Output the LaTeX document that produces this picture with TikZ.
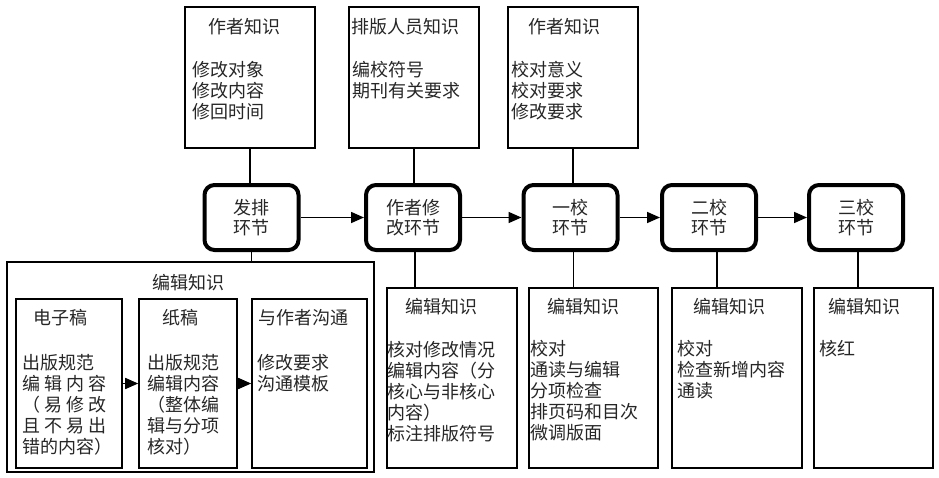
\documentclass[tikz,border=0pt]{standalone}
\usepackage{fontspec}
\newfontfamily\cjk{Noto Sans CJK SC}
\usetikzlibrary{arrows.meta}
\begin{document}
\begin{tikzpicture}[x=1pt,y=-1pt,
  every node/.style={font=\cjk\fontsize{18}{21}\selectfont,text=black!85,inner sep=0pt},
  kbox/.style={draw=black,line width=1.6pt},
  stage/.style={draw=black,line width=4pt,rounded corners=10pt,minimum width=94,minimum height=65,align=center,font=\cjk\fontsize{18}{20}\selectfont},
  ttl/.style={anchor=west},
  txt/.style={anchor=north west,align=left},
  ln/.style={line width=1.6pt},
  arr/.style={line width=1.6pt,-{Triangle[length=13pt,width=11pt]}}]
\useasboundingbox (0,0) rectangle (939,477);

\node[kbox,minimum width=130,minimum height=141] (zz1) at (250,77.5) {};
\node[kbox,minimum width=130,minimum height=141] (pb) at (414,77.5) {};
\node[kbox,minimum width=130,minimum height=141] (zz2) at (573,77.5) {};
\node[ttl] (zz1t) at (208,27) {作者知识};
\node[txt] (zz1b) at (192,61.5) {修改对象\\修改内容\\修回时间};
\node[ttl] (pbt) at (351,27) {排版人员知识};
\node[txt] (pbb) at (352,61.5) {编校符号\\期刊有关要求};
\node[ttl] (zz2t) at (528,27) {作者知识};
\node[txt] (zz2b) at (511,61.5) {校对意义\\校对要求\\修改要求};

\node[stage] (fp) at (251.5,217.5) {发排\\环节};
\node[stage] (zx) at (413,217.5) {作者修\\改环节};
\node[stage] (yj) at (570.5,217.5) {一校\\环节};
\node[stage] (ej) at (709,217.5) {二校\\环节};
\node[stage] (sj) at (856,217.5) {三校\\环节};

\draw[ln] (zz1.south) -- (zz1.south |- fp.north);
\draw[ln] (pb.south) -- (pb.south |- zx.north);
\draw[ln] (zz2.south) -- (zz2.south |- yj.north);
\draw[arr] (fp) -- (zx);
\draw[arr] (zx) -- (yj);
\draw[arr] (yj) -- (ej);
\draw[arr] (ej) -- (sj);

\node[kbox,minimum width=367,minimum height=210] (bj) at (190.5,367) {};
\node (bjt) at (188,283) {编辑知识};
\node[kbox,minimum width=106,minimum height=169] (dz) at (69,383.5) {};
\node[kbox,minimum width=98,minimum height=169] (zg) at (188,383.5) {};
\node[kbox,minimum width=115,minimum height=169] (gt) at (309.5,383.5) {};
\node[ttl] (dzt) at (33,318) {电子稿};
\node[txt] (dzb) at (22,354.5) {出版规范\\
  \makebox[84pt][s]{编\hfill 辑\hfill 内\hfill 容}\\
  \makebox[84pt][s]{（\hfill 易\hfill 修\hfill 改}\\
  \makebox[84pt][s]{且\hfill 不\hfill 易\hfill 出}\\
  错的内容）};
\node[ttl] (zgt) at (162,318) {纸稿};
\node[txt] (zgb) at (147,354.5) {出版规范\\编辑内容\\（整体编\\辑与分项\\核对）};
\node[ttl] (gtt) at (258,318) {与作者沟通};
\node[txt] (gtb) at (257,354.5) {修改要求\\沟通模板};
\draw[arr] (dz) -- (zg);
\draw[arr] (zg) -- (gt);

\node[kbox,minimum width=130,minimum height=180] (k1) at (452,378) {};
\node[kbox,minimum width=129,minimum height=180] (k2) at (593.5,378) {};
\node[kbox,minimum width=130,minimum height=180] (k3) at (737,378) {};
\node[kbox,minimum width=119,minimum height=180] (k4) at (873.5,378) {};
\node[ttl] (k1t) at (405,307) {编辑知识};
\node[txt] (k1b) at (387,341.5) {核对修改情况\\编辑内容（分\\核心与非核心\\内容）\\标注排版符号};
\node[ttl] (k2t) at (547,307) {编辑知识};
\node[txt] (k2b) at (530,340) {校对\\通读与编辑\\分项检查\\排页码和目次\\微调版面};
\node[ttl] (k3t) at (693,307) {编辑知识};
\node[txt] (k3b) at (677,340) {校对\\检查新增内容\\通读};
\node[ttl] (k4t) at (828,307) {编辑知识};
\node[txt] (k4b) at (819,340) {核红};

\draw[ln] (fp.south) -- (fp.south |- bj.north);
\draw[ln] ([xshift=2pt]zx.south) -- ([xshift=2pt]zx.south |- k1.north);
\draw[ln] ([xshift=3pt]yj.south) -- ([xshift=3pt]yj.south |- k2.north);
\draw[ln] ([xshift=8pt]ej.south) -- ([xshift=8pt]ej.south |- k3.north);
\draw[ln] ([xshift=2pt]sj.south) -- ([xshift=2pt]sj.south |- k4.north);
\end{tikzpicture}
\end{document}
